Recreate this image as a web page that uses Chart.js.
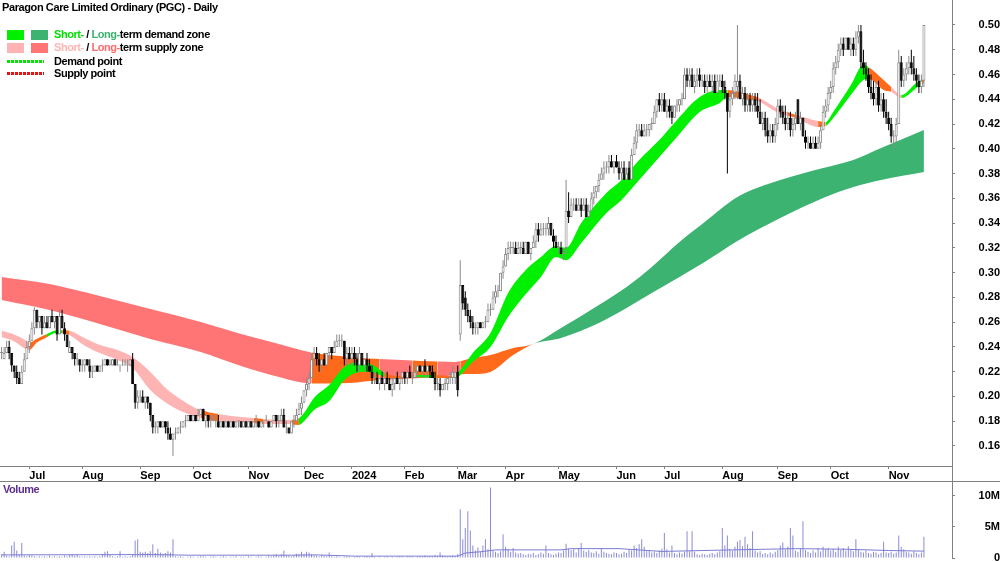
<!DOCTYPE html>
<html><head><meta charset="utf-8">
<script src="https://cdn.jsdelivr.net/npm/chart.js@4.4.1/dist/chart.umd.min.js"></script>
<style>
html,body{margin:0;padding:0;background:#fff;}
#wrap{position:relative;width:1000px;height:562px;overflow:hidden;background:#fff;font-family:"Liberation Sans",Arial,sans-serif;}
canvas{position:absolute;left:0;}
.t{position:absolute;font-weight:bold;font-size:11px;line-height:13px;letter-spacing:-0.45px;white-space:nowrap;color:#000;}
.sw{position:absolute;width:17px;height:10px;}
.dl{position:absolute;width:37px;height:3px;}
</style></head>
<body>
<div id="wrap">
<canvas id="price" width="1000" height="481" style="top:0"></canvas>
<canvas id="vol" width="1000" height="81" style="top:481px"></canvas>
<div class="t" style="left:2px;top:1px;letter-spacing:-0.4px">Paragon Care Limited Ordinary (PGC) - Daily</div>
<div class="sw" style="left:7px;top:30px;background:#00f000"></div>
<div class="sw" style="left:31px;top:30px;background:#3cb371"></div>
<div class="t" style="left:54px;top:28px"><span style="color:#00e000">Short-</span> / <span style="color:#3cb371">Long-</span>term demand zone</div>
<div class="sw" style="left:7px;top:43px;background:#ffb4b4"></div>
<div class="sw" style="left:31px;top:43px;background:#ff7474"></div>
<div class="t" style="left:54px;top:41px"><span style="color:#ffb4b4">Short-</span> / <span style="color:#ff6a6a">Long-</span>term supply zone</div>
<div class="dl" style="left:7px;top:60px;background:repeating-linear-gradient(90deg,#00e600 0 3px,transparent 3px 4px)"></div>
<div class="t" style="left:54px;top:55px">Demand point</div>
<div class="dl" style="left:7px;top:72px;background:repeating-linear-gradient(90deg,#ee1111 0 3px,transparent 3px 4px)"></div>
<div class="t" style="left:54px;top:67px">Supply point</div>
<div class="t" style="left:3px;top:483px;color:#5c2d91">Volume</div>
</div>
<script>
// ---- Daily OHLC (A$) ----
const opens = [
.235,.230,.235,.240,.235,.225,.220,.215,.210,.220,
.230,.240,.245,.255,.270,.260,.265,.255,.260,.255,
.265,.260,.265,.250,.265,.255,.250,.235,.240,.235,
.230,.230,.225,.225,.230,.225,.220,.220,.225,.220,
.225,.225,.230,.225,.225,.230,.225,.225,.225,.225,
.225,.225,.230,.210,.195,.200,.200,.195,.200,.195,
.185,.175,.175,.180,.175,.180,.175,.170,.165,.170,
.170,.175,.175,.180,.180,.185,.180,.185,.180,.185,
.190,.180,.185,.180,.180,.180,.180,.175,.180,.175,
.180,.175,.180,.175,.180,.180,.175,.180,.175,.180,
.175,.180,.180,.175,.180,.180,.180,.175,.180,.185,
.180,.180,.185,.175,.175,.170,.180,.180,.185,.190,
.195,.205,.210,.215,.230,.235,.230,.225,.230,.225,
.235,.240,.235,.240,.245,.245,.245,.230,.235,.230,
.235,.230,.225,.235,.225,.230,.225,.220,.215,.215,
.210,.215,.210,.215,.210,.205,.210,.215,.210,.215,
.220,.215,.220,.215,.215,.220,.225,.220,.225,.220,
.225,.220,.215,.210,.210,.205,.210,.210,.215,.215,
.215,.220,.250,.290,.280,.270,.265,.260,.255,.255,
.260,.255,.260,.260,.270,.270,.280,.285,.285,.300,
.305,.315,.320,.320,.320,.315,.320,.320,.315,.325,
.315,.320,.325,.335,.330,.335,.335,.335,.340,.330,
.325,.320,.320,.315,.320,.350,.345,.355,.355,.350,
.355,.350,.355,.345,.350,.360,.365,.370,.375,.380,
.385,.385,.390,.385,.390,.385,.380,.385,.375,.385,
.375,.395,.405,.415,.415,.410,.415,.415,.420,.420,
.430,.440,.435,.440,.430,.435,.430,.425,.435,.435,
.440,.440,.460,.455,.460,.450,.455,.460,.455,.455,
.450,.455,.450,.455,.445,.455,.455,.450,.445,.430,
.440,.445,.450,.455,.440,.445,.435,.440,.435,.440,
.435,.430,.420,.425,.415,.410,.415,.410,.420,.435,
.430,.425,.420,.425,.415,.420,.440,.420,.425,.410,
.405,.405,.400,.405,.400,.405,.415,.430,.435,.445,
.450,.465,.470,.480,.485,.480,.490,.480,.485,.480,
.490,.495,.470,.465,.460,.450,.445,.440,.450,.435,
.440,.430,.425,.420,.410,.410,.420,.470,.455,.460,
.465,.470,.465,.460,.455,.450,.455];
const highs = [
.240,.240,.245,.245,.235,.225,.225,.220,.225,.235,
.245,.250,.260,.272,.270,.265,.265,.265,.265,.265,
.270,.265,.265,.270,.270,.260,.250,.245,.240,.235,
.235,.230,.230,.230,.230,.230,.225,.225,.225,.225,
.230,.230,.230,.230,.230,.230,.230,.225,.230,.230,
.230,.230,.235,.210,.205,.205,.205,.200,.200,.195,
.185,.180,.180,.180,.180,.180,.180,.175,.170,.175,
.175,.180,.180,.185,.185,.185,.185,.185,.190,.190,
.190,.185,.185,.185,.185,.185,.185,.180,.180,.180,
.180,.180,.180,.180,.180,.180,.180,.180,.180,.180,
.180,.185,.180,.180,.180,.185,.180,.180,.185,.185,
.185,.190,.190,.180,.175,.180,.185,.190,.195,.200,
.205,.215,.220,.235,.240,.240,.235,.230,.235,.235,
.240,.240,.245,.250,.250,.250,.245,.240,.240,.240,
.240,.235,.240,.235,.230,.235,.230,.225,.220,.220,
.215,.220,.215,.220,.215,.215,.215,.220,.215,.220,
.220,.220,.225,.220,.225,.225,.225,.225,.230,.225,
.225,.225,.220,.215,.215,.210,.215,.215,.220,.225,
.220,.225,.310,.290,.285,.275,.270,.265,.260,.260,
.260,.260,.265,.275,.275,.285,.290,.290,.300,.310,
.320,.325,.325,.325,.325,.325,.325,.325,.325,.325,
.320,.330,.340,.340,.340,.340,.340,.345,.340,.335,
.330,.325,.325,.320,.375,.365,.360,.360,.360,.360,
.360,.360,.360,.355,.365,.370,.370,.380,.385,.390,
.390,.395,.395,.390,.395,.390,.390,.390,.385,.390,
.400,.410,.420,.420,.420,.420,.420,.420,.425,.435,
.440,.445,.445,.445,.440,.440,.435,.435,.440,.440,
.445,.465,.465,.465,.465,.460,.465,.465,.460,.460,
.460,.460,.460,.460,.460,.460,.460,.455,.445,.445,
.450,.460,.500,.460,.450,.450,.445,.445,.445,.445,
.445,.440,.430,.430,.425,.420,.420,.425,.440,.440,
.435,.435,.430,.430,.425,.430,.440,.430,.425,.415,
.410,.410,.410,.410,.410,.420,.435,.440,.450,.455,
.470,.475,.485,.490,.490,.490,.490,.490,.490,.495,
.500,.500,.480,.470,.465,.460,.455,.455,.455,.445,
.445,.440,.430,.425,.415,.425,.480,.475,.465,.470,
.475,.480,.475,.465,.460,.460,.500];
const lows = [
.230,.230,.235,.230,.220,.215,.210,.210,.210,.220,
.230,.235,.245,.250,.255,.255,.250,.255,.255,.255,
.260,.255,.245,.250,.255,.245,.240,.235,.230,.225,
.225,.220,.220,.220,.225,.215,.215,.220,.220,.220,
.220,.225,.225,.225,.225,.225,.225,.220,.225,.225,
.220,.225,.210,.190,.190,.195,.195,.190,.190,.180,
.170,.170,.170,.175,.175,.170,.165,.165,.152,.165,
.170,.170,.175,.175,.180,.180,.180,.180,.180,.185,
.180,.175,.175,.175,.180,.175,.175,.175,.175,.175,
.175,.175,.175,.175,.175,.175,.175,.175,.175,.175,
.175,.175,.175,.175,.175,.180,.175,.175,.180,.175,
.175,.180,.175,.170,.170,.170,.175,.180,.185,.185,
.195,.200,.205,.215,.225,.225,.220,.220,.225,.225,
.230,.230,.235,.240,.240,.240,.225,.225,.230,.225,
.225,.220,.220,.225,.220,.220,.220,.210,.210,.210,
.205,.210,.205,.210,.205,.200,.205,.210,.205,.210,
.210,.210,.215,.210,.215,.215,.220,.215,.220,.215,
.215,.215,.205,.205,.200,.205,.205,.205,.210,.210,
.210,.200,.245,.270,.265,.260,.255,.250,.250,.250,
.255,.255,.255,.260,.265,.270,.275,.280,.285,.295,
.305,.310,.315,.315,.315,.315,.315,.315,.315,.315,
.310,.320,.320,.325,.330,.330,.330,.330,.330,.320,
.320,.315,.315,.310,.315,.340,.345,.350,.350,.350,
.345,.350,.345,.345,.350,.355,.360,.365,.375,.375,
.380,.380,.385,.380,.385,.375,.375,.375,.375,.375,
.375,.395,.400,.410,.410,.410,.410,.410,.415,.420,
.425,.430,.430,.430,.425,.425,.420,.425,.430,.430,
.435,.440,.450,.450,.450,.445,.450,.450,.450,.445,
.445,.450,.445,.445,.445,.450,.445,.440,.380,.425,
.435,.440,.440,.440,.435,.430,.430,.430,.430,.430,
.425,.420,.415,.410,.405,.405,.405,.405,.415,.425,
.420,.415,.415,.410,.410,.415,.420,.415,.410,.400,
.400,.400,.400,.400,.400,.400,.415,.425,.430,.440,
.445,.460,.465,.475,.475,.480,.480,.475,.475,.475,
.485,.465,.460,.455,.445,.440,.435,.435,.430,.430,
.425,.420,.415,.405,.400,.405,.420,.450,.450,.455,
.460,.460,.455,.450,.445,.445,.450];
const closes = [
.235,.235,.240,.235,.225,.220,.215,.210,.220,.230,
.240,.245,.255,.270,.260,.265,.255,.260,.255,.265,
.260,.265,.250,.265,.255,.250,.240,.240,.235,.230,
.230,.225,.225,.230,.225,.220,.220,.225,.220,.225,
.225,.230,.225,.225,.230,.225,.225,.225,.225,.225,
.225,.230,.210,.195,.200,.200,.195,.200,.195,.185,
.175,.175,.180,.175,.180,.175,.170,.165,.170,.170,
.175,.175,.180,.180,.185,.180,.185,.180,.185,.190,
.180,.185,.180,.180,.180,.180,.175,.180,.175,.180,
.175,.180,.175,.180,.180,.175,.180,.175,.180,.175,
.180,.180,.175,.180,.180,.180,.175,.180,.185,.180,
.180,.185,.175,.175,.170,.180,.180,.185,.190,.195,
.205,.210,.215,.230,.235,.230,.225,.230,.225,.235,
.240,.235,.240,.245,.245,.245,.230,.235,.230,.235,
.230,.225,.235,.225,.230,.225,.220,.215,.215,.210,
.215,.210,.215,.210,.205,.210,.215,.210,.215,.220,
.215,.220,.215,.215,.220,.225,.220,.225,.220,.225,
.220,.215,.210,.210,.205,.210,.210,.215,.215,.220,
.220,.205,.290,.275,.270,.265,.260,.255,.255,.260,
.255,.260,.260,.270,.270,.280,.285,.285,.300,.305,
.315,.320,.320,.320,.315,.320,.320,.315,.325,.315,
.320,.325,.335,.330,.335,.335,.335,.340,.330,.325,
.320,.320,.315,.315,.350,.345,.355,.355,.350,.355,
.350,.355,.345,.350,.360,.365,.370,.375,.380,.385,
.385,.390,.385,.390,.385,.380,.385,.375,.380,.375,
.395,.405,.415,.415,.410,.415,.415,.420,.420,.430,
.440,.435,.440,.430,.435,.430,.425,.435,.435,.440,
.440,.460,.455,.460,.450,.455,.460,.455,.455,.450,
.455,.450,.455,.445,.455,.455,.450,.445,.430,.440,
.445,.455,.455,.440,.445,.435,.440,.435,.440,.435,
.430,.420,.425,.415,.410,.415,.410,.420,.435,.430,
.425,.420,.425,.415,.420,.425,.420,.425,.410,.405,
.405,.400,.405,.400,.405,.415,.430,.435,.445,.450,
.465,.470,.480,.485,.480,.490,.480,.485,.480,.490,
.495,.470,.465,.460,.450,.445,.440,.450,.435,.440,
.430,.425,.420,.410,.410,.420,.470,.455,.460,.465,
.470,.465,.460,.455,.450,.455,.500];
// ---- Daily volume (millions of shares) ----
const volumes = [
0.6,1.0,0.4,0.3,2.0,2.6,1.2,0.5,2.4,0.4,
0.3,0.5,0.4,0.3,0.2,0.3,0.2,0.3,0.2,0.4,
0.2,0.3,0.2,0.3,0.2,0.4,0.3,0.5,0.6,0.4,
0.5,0.3,0.2,0.3,0.2,0.3,0.2,0.3,0.2,0.3,
0.6,1.0,1.1,0.5,0.3,0.2,0.3,1.1,0.2,0.3,
0.2,0.3,0.5,2.8,3.0,1.0,0.9,1.0,0.8,1.1,
2.2,0.8,1.5,0.9,0.7,0.8,1.1,0.9,3.0,0.3,
0.2,0.3,0.2,0.1,0.2,0.3,0.2,0.1,0.2,0.3,
0.3,0.2,0.1,0.2,0.3,0.2,0.1,0.2,0.3,0.2,
0.1,0.2,0.2,0.3,0.1,0.2,0.2,0.1,0.3,0.2,
0.1,0.2,0.3,0.2,0.1,0.2,0.4,0.3,0.5,0.6,
0.4,0.6,1.2,0.5,0.4,0.3,0.5,0.7,0.6,1.0,
0.7,1.0,0.9,0.6,0.5,0.4,0.3,0.5,0.4,0.3,
0.9,0.3,0.2,0.3,0.2,0.1,0.2,0.3,0.2,0.1,
0.2,0.3,0.2,0.1,0.2,0.3,0.2,0.8,0.2,0.1,
0.2,0.1,0.2,0.3,0.1,0.2,0.1,0.2,0.3,0.2,
0.1,0.2,0.3,0.2,0.1,0.2,0.3,0.2,0.4,0.2,
0.3,0.2,0.5,0.3,0.9,0.4,0.3,0.2,0.3,0.4,
0.3,0.6,7.8,3.0,4.8,7.5,4.4,2.0,1.2,1.7,
1.0,2.0,3.0,1.4,11.3,1.2,1.0,0.8,1.1,3.8,
1.8,1.5,1.0,1.6,0.9,0.7,0.8,0.6,0.5,0.7,
0.6,0.8,0.5,0.6,0.9,0.7,2.0,0.8,0.6,0.5,
0.7,0.9,0.8,1.2,2.3,1.5,1.3,1.4,0.9,1.6,
2.4,1.2,1.0,1.3,0.9,0.8,1.1,0.7,1.5,1.0,
0.8,0.7,0.6,0.9,0.8,0.6,0.7,1.0,0.8,1.4,
1.2,2.0,1.6,2.2,3.0,1.8,1.1,1.3,0.9,1.0,
0.8,1.2,1.5,4.0,1.4,0.9,2.0,0.8,0.6,0.9,
0.7,1.0,4.3,1.1,4.3,1.0,0.6,0.5,0.7,0.6,
0.5,0.7,0.8,0.6,0.9,1.1,4.8,2.0,3.6,1.5,
1.2,1.8,2.6,2.9,1.9,3.4,2.2,1.6,4.3,1.2,
0.9,1.1,0.7,0.8,0.6,0.9,0.7,1.0,1.3,2.0,
2.5,1.4,1.8,4.8,3.6,1.2,1.0,1.5,5.9,1.3,
1.0,0.8,1.2,0.9,1.6,1.1,1.8,1.4,1.6,1.2,
1.5,1.0,1.8,1.3,1.6,1.2,1.9,1.4,1.1,3.0,
1.4,1.0,0.9,1.2,0.8,0.7,1.0,0.9,0.6,0.8,
2.6,0.9,0.8,1.0,0.7,0.9,3.6,1.8,1.4,1.0,
0.9,0.7,1.1,0.8,0.6,0.9,3.4];
// volume moving average (sampled at day indices)
const volMaIdx = [0,60,75,115,125,140,181,184,190,196,222,226,245,262,290,315,335,352,366];
const volMaVal = [0.5,0.55,0.45,0.45,0.5,0.3,0.3,0.8,1.0,1.3,1.3,1.5,1.5,1.05,1.3,1.5,1.4,1.2,1.1];
// ---- Axis labels ----
const monthIdx = [11,32,55,76,98,120,139,160,181,200,221,244,263,286,308,329,352];
const monthLabels = ['Jul','Aug','Sep','Oct','Nov','Dec','2024','Feb','Mar','Apr','May','Jun','Jul','Aug','Sep','Oct','Nov'];
const priceTicks = [0.16,0.18,0.20,0.22,0.24,0.26,0.28,0.30,0.32,0.34,0.36,0.38,0.40,0.42,0.44,0.46,0.48,0.50];
const volTicks = [0,5,10];
// ---- Short-term zone (edges sampled at day indices) ----
const stIdx = [0,5,9,11,14,18,21,24,27,33,39,46,52,59,66,74,79,86,95,100,104,112,115,118,120,124,130,136,143,148,152,158,164,172,179,181,187,194,201,207,214,220,224,230,240,246,253,261,268,277,285,288,297,300,309,312,315,324,327,330,337,342,344,350,353,357,363,365,366];
const stTop = [.253,.250,.246,.2435,.2466,.2504,.253,.2535,.253,.247,.2415,.2375,.2319,.2198,.2052,.194,.189,.1858,.1834,.1826,.1818,.181,.1812,.1825,.1866,.199,.2093,.2238,.2278,.2246,.219,.2165,.2173,.2173,.2165,.219,.235,.2512,.2836,.300,.3126,.3215,.320,.340,.3643,.3748,.391,.4071,.4233,.4418,.4475,.4475,.4435,.4418,.4313,.4295,.4275,.4225,.4217,.4297,.4515,.4677,.466,.4556,.450,.4435,.4532,.4556,.456];
const stBot = [.248,.2444,.239,.2375,.2435,.2479,.251,.251,.2495,.241,.235,.2294,.223,.2052,.194,.1858,.1826,.180,.1794,.1786,.1778,.1778,.1776,.177,.180,.189,.1963,.2133,.2197,.219,.2157,.2141,.2157,.2149,.2149,.2157,.228,.240,.2642,.2803,.2965,.3126,.310,.3239,.3482,.3587,.3748,.3934,.4095,.4297,.437,.4418,.4394,.4386,.4281,.4268,.425,.4176,.4184,.4249,.4435,.4556,.4565,.4475,.446,.441,.4491,.4524,.453];
const stZone = ['S','S','S','O','O','D','D','O','S','S','S','S','S','S','S','S','O','S','S','O','S','S','O','D','D','D','D','D','D','D','O','O','D','O','O','D','D','D','D','D','D','D','D','D','D','D','D','D','D','D','D','O','O','S','S','O','S','O','D','D','D','D','O','O','S','D','D','O','O'];
// ---- Long-term zone ----
const ltIdx = [0,19,39,59,79,95,110,123,138,150,163,166,173,180,182,187,194,203,211,222,237,248,258,269,279,292,309,326,338,349,366];
const ltTop = [.2965,.2908,.2811,.2706,.2601,.2504,.2424,.2355,.2319,.2302,.229,.2286,.2282,.2278,.2285,.231,.2334,.2391,.2424,.2553,.2739,.2884,.3046,.3247,.3409,.3611,.3748,.3845,.391,.4007,.4152];
const ltBot = [.2779,.2698,.2585,.2464,.2359,.2246,.2157,.2105,.2109,.2133,.2145,.2149,.216,.2173,.218,.2181,.2198,.2334,.2424,.2472,.2593,.2714,.2836,.2965,.3086,.3256,.3441,.3603,.3692,.3748,.3813];
const ltZone = ['R','R','R','R','R','R','R','O','O','R','O','O','R','R','O','O','O','O','L','L','L','L','L','L','L','L','L','L','L','L','L'];

const ZC = {S:'#ffb4b4', D:'#00f000', O:'#ff6a1a', R:'#ff7474', L:'#3cb371'};
const X_MIN = -0.635, X_MAX = 377.14;
const Y_MIN = 0.14384, Y_MAX = 0.52019;
const UPC = '#8a8a8a';
const tickFont = {family:'"Liberation Sans", Arial, sans-serif', size:11, weight:'bold'};
const isUp = i => closes[i] >= opens[i];
const bandLine = (idx, vals, extra) => Object.assign({
  type:'line', data: idx.map((x,k)=>({x:x, y:vals[k]})),
  borderColor:'rgba(0,0,0,0)', borderWidth:0, pointRadius:0,
  cubicInterpolationMode:'monotone', fill:false
}, extra);

new Chart(document.getElementById('price'), {
  type:'bar',
  data:{datasets:[
    {type:'bar', order:0, grouped:false, barThickness:3, minBarLength:1, borderWidth:1, borderSkipped:false, inflateAmount:0,
     data: opens.map((o,i)=>({x:i, y:[o, closes[i]]})),
     backgroundColor: c => isUp(c.dataIndex) ? '#ffffff' : '#000000',
     borderColor: c => isUp(c.dataIndex) ? UPC : '#000000'},
    {type:'bar', order:1, grouped:false, barThickness:1, borderWidth:0, inflateAmount:0,
     data: lows.map((l,i)=>({x:i, y:[l, highs[i]]})),
     backgroundColor: c => isUp(c.dataIndex) ? UPC : '#000000'},
    bandLine(stIdx, stTop, {order:2}),
    bandLine(stIdx, stBot, {order:2, fill:2, backgroundColor:ZC.S,
      segment:{backgroundColor: c => ZC[stZone[c.p0DataIndex]]}}),
    bandLine(ltIdx, ltTop, {order:3}),
    bandLine(ltIdx, ltBot, {order:3, fill:4, backgroundColor:ZC.R,
      segment:{backgroundColor: c => ZC[ltZone[c.p0DataIndex]]}})
  ]},
  options:{
    responsive:false, animation:false, events:[],
    layout:{padding:0},
    plugins:{legend:{display:false}, tooltip:{enabled:false}},
    scales:{
      x:{type:'linear', min:X_MIN, max:X_MAX, offset:false,
         afterBuildTicks: s => { s.ticks = monthIdx.map(v=>({value:v})); },
         afterFit: s => { s.height = 15; s.paddingLeft = 0; s.paddingRight = 0; },
         ticks:{autoSkip:false, maxRotation:0, minRotation:0, align:'start', padding:0, color:'#000', font:tickFont,
                callback:(v,i)=>monthLabels[i]},
         grid:{drawOnChartArea:false, drawTicks:true, tickLength:3, color:'#808080', offset:false},
         border:{display:true, color:'#808080', width:1}},
      y:{type:'linear', position:'right', min:Y_MIN, max:Y_MAX,
         afterBuildTicks: s => { s.ticks = priceTicks.map(v=>({value:v})); },
         afterFit: s => { s.width = 48; s.paddingTop = 0; s.paddingBottom = 0; },
         ticks:{crossAlign:'far', padding:20, color:'#000', font:tickFont, callback:v=>v.toFixed(2)},
         grid:{drawOnChartArea:false, tickLength:3, color:'#808080'},
         border:{color:'#808080'}}
    }
  },
  plugins:[{id:'sep', afterDraw(chart){
    const ctx = chart.ctx, a = chart.chartArea;
    ctx.save(); ctx.strokeStyle='#808080'; ctx.lineWidth=1;
    ctx.beginPath(); ctx.moveTo(Math.round(a.right)+0.5, a.bottom); ctx.lineTo(Math.round(a.right)+0.5, chart.height); ctx.stroke();
    ctx.restore();
  }}]
});

new Chart(document.getElementById('vol'), {
  type:'bar',
  data:{datasets:[
    {type:'line', order:0, data: volMaIdx.map((x,k)=>({x:x, y:volMaVal[k]})),
     borderColor:'#7b7bd0', borderWidth:1, pointRadius:0, tension:0, fill:false},
    {type:'bar', order:1, grouped:false, barThickness:1, borderWidth:0, inflateAmount:0,
     data: volumes.map((v,i)=>({x:i, y:v})), backgroundColor:'#8b8bd8'}
  ]},
  options:{
    responsive:false, animation:false, events:[],
    layout:{padding:{top:0, left:0, right:0, bottom:4}},
    plugins:{legend:{display:false}, tooltip:{enabled:false}},
    scales:{
      x:{type:'linear', display:false, min:X_MIN, max:X_MAX, offset:false},
      y:{type:'linear', position:'right', min:0, max:12.32,
         afterBuildTicks: s => { s.ticks = volTicks.map(v=>({value:v})); },
         afterFit: s => { s.width = 48; s.paddingTop = 0; s.paddingBottom = 0; },
         ticks:{crossAlign:'far', padding:20, color:'#000', font:tickFont, callback:v => v === 0 ? '0' : v + 'M'},
         grid:{drawOnChartArea:false, tickLength:3, color:'#808080'},
         border:{color:'#808080'}}
    }
  },
  plugins:[{id:'topline', afterDraw(chart){
    const ctx = chart.ctx;
    ctx.save(); ctx.strokeStyle='#808080'; ctx.lineWidth=1;
    ctx.beginPath(); ctx.moveTo(0,0.5); ctx.lineTo(chart.width,0.5); ctx.stroke();
    ctx.restore();
  }}]
});
</script>
</body></html>
